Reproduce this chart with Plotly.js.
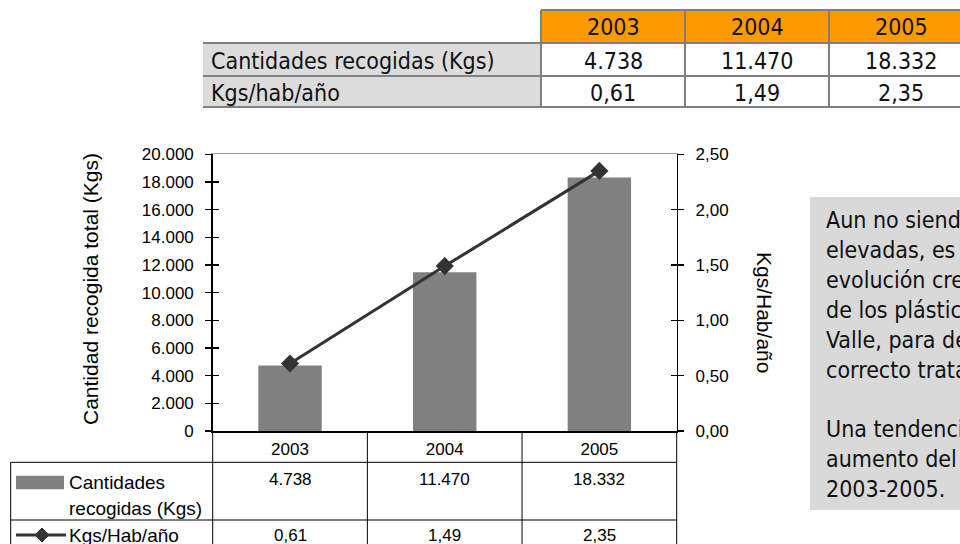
<!DOCTYPE html>
<html>
<head>
<meta charset="utf-8">
<script src="https://cdn.plot.ly/plotly-3.0.1.min.js"></script>
<style>
html,body{margin:0;padding:0;overflow:hidden;background:#fff;}
#chart{width:960px;height:544px;}
</style>
</head>
<body>
<div id="chart"></div>
<script>
// ---- data ----
const years = ['2003', '2004', '2005'];
const cantidades = [4738, 11470, 18332];
const kgsHab = [0.61, 1.49, 2.35];
const topRowLabels = ['Cantidades recogidas (Kgs)', 'Kgs/hab/año'];
const seriesNames = ['Cantidades recogidas (Kgs)', 'Kgs/Hab/año'];
const leftAxisTitle = 'Cantidad recogida total (Kgs)';
const rightAxisTitle = 'Kgs/Hab/año';
const noteLines = [
  'Aun no siendo cantidades muy',
  'elevadas, es significativa la',
  'evolución creciente en la recogida',
  'de los plásticos agrícolas del',
  'Valle, para destinarlos a su',
  'correcto tratamiento.',
  '',
  'Una tendencia que supone un',
  'aumento del 287% en el periodo',
  '2003-2005.'
];

// ---- helpers ----
const W = 960, H = 544;
const fx = p => p / W;
const fy = p => 1 - p / H;
const fmtThousands = n => String(n).replace(/\B(?=(\d{3})+(?!\d))/g, '.');
const fmtDec = v => v.toFixed(2).replace('.', ',');
const cantLabels = cantidades.map(fmtThousands);
const kgsLabels = kgsHab.map(fmtDec);

const ARIAL = 'Liberation Sans, Arial, sans-serif';
const TAHOMA = 'DejaVu Sans Condensed, DejaVu Sans, sans-serif';
const INK = '#000000';
const BAR = '#808080';
const LINE = '#333333';

// plot geometry (pixels)
const PL = 212.7, PR = 676.7, PT = 154.3, PB = 431;
const catW = (PR - PL) / years.length;

const shapes = [];
const annotations = [];

// ---- top table ----
const tT = 10, tR1 = 43, tR2 = 76, tB = 107;
const labL = 203, colL = 541, colW = 144;
shapes.push({type:'rect', xref:'paper', yref:'paper', x0:fx(labL), x1:fx(colL), y0:fy(tB), y1:fy(tR1), fillcolor:'#dcdcdc', line:{width:0}, layer:'below'});
shapes.push({type:'rect', xref:'paper', yref:'paper', x0:fx(colL), x1:fx(colL + colW*years.length), y0:fy(tR1), y1:fy(tT), fillcolor:'#ff9900', line:{width:0}, layer:'below'});
const tableGrid = {color:'#808080', width:2};
[tR1, tR2, tB].forEach(yy => shapes.push({type:'line', xref:'paper', yref:'paper', x0:fx(labL), x1:fx(colL + colW*years.length), y0:fy(yy), y1:fy(yy), line:tableGrid}));
shapes.push({type:'line', xref:'paper', yref:'paper', x0:fx(colL), x1:fx(colL + colW*years.length), y0:fy(tT), y1:fy(tT), line:tableGrid});
for (let i = 0; i <= years.length; i++) {
  shapes.push({type:'line', xref:'paper', yref:'paper', x0:fx(colL + colW*i), x1:fx(colL + colW*i), y0:fy(tT), y1:fy(tB), line:tableGrid});
}
const topFont = {family:TAHOMA, size:23, color:'#111'};
years.forEach((yr, i) => {
  const cx = fx(colL + colW*i + colW/2);
  annotations.push({xref:'paper', yref:'paper', x:cx, y:fy((tT+tR1)/2 + 1), text:yr, showarrow:false, font:topFont, xanchor:'center', yanchor:'middle'});
  annotations.push({xref:'paper', yref:'paper', x:cx, y:fy((tR1+tR2)/2 + 1), text:cantLabels[i], showarrow:false, font:topFont, xanchor:'center', yanchor:'middle'});
  annotations.push({xref:'paper', yref:'paper', x:cx, y:fy((tR2+tB)/2 + 1), text:kgsLabels[i], showarrow:false, font:topFont, xanchor:'center', yanchor:'middle'});
});
annotations.push({xref:'paper', yref:'paper', x:fx(209), y:fy((tR1+tR2)/2 + 1), text:topRowLabels[0], showarrow:false, font:topFont, xanchor:'left', yanchor:'middle'});
annotations.push({xref:'paper', yref:'paper', x:fx(209), y:fy((tR2+tB)/2 + 1), text:topRowLabels[1], showarrow:false, font:topFont, xanchor:'left', yanchor:'middle'});

// ---- text note box ----
shapes.push({type:'rect', xref:'paper', yref:'paper', x0:fx(810), x1:fx(1000), y0:fy(510), y1:fy(197), fillcolor:'#d9d9d9', line:{width:0}, layer:'below'});
annotations.push({xref:'paper', yref:'paper', x:fx(824), y:fy(205), text:noteLines.join('<br>'), showarrow:false, align:'left', xanchor:'left', yanchor:'top', font:{family:TAHOMA, size:23, color:'#111'}});

// ---- axis titles ----
annotations.push({xref:'paper', yref:'paper', x:fx(90), y:fy(289), text:leftAxisTitle, textangle:-90, showarrow:false, xanchor:'center', yanchor:'middle', font:{family:ARIAL, size:21, color:INK}});
annotations.push({xref:'paper', yref:'paper', x:fx(765), y:fy(312), text:rightAxisTitle, textangle:90, showarrow:false, xanchor:'center', yanchor:'middle', font:{family:ARIAL, size:21, color:INK}});

// ---- data table under the chart ----
const dR1 = 462.3, dR2 = 520, dL = 10.7;
const dGrid = {color:'#000', width:1};
[dR1, dR2].forEach(yy => shapes.push({type:'line', xref:'paper', yref:'paper', x0:fx(dL), x1:fx(PR), y0:fy(yy), y1:fy(yy), line:dGrid}));
shapes.push({type:'line', xref:'paper', yref:'paper', x0:fx(dL), x1:fx(dL), y0:fy(dR1), y1:0, line:dGrid});
for (let i = 0; i <= years.length; i++) {
  shapes.push({type:'line', xref:'paper', yref:'paper', x0:fx(PL + catW*i), x1:fx(PL + catW*i), y0:0, y1:fy(PB), line:dGrid});
}
const tabFont = {family:ARIAL, size:17, color:INK};
years.forEach((yr, i) => {
  const cx = fx(PL + catW*(i + 0.5));
  annotations.push({xref:'paper', yref:'paper', x:cx, y:fy(479), text:cantLabels[i], showarrow:false, font:tabFont, xanchor:'center', yanchor:'middle'});
  annotations.push({xref:'paper', yref:'paper', x:cx, y:fy(535), text:kgsLabels[i], showarrow:false, font:tabFont, xanchor:'center', yanchor:'middle'});
});
// legend keys
shapes.push({type:'rect', xref:'paper', yref:'paper', x0:fx(16), x1:fx(64), y0:fy(489.3), y1:fy(475.7), fillcolor:BAR, line:{width:0}});
shapes.push({type:'line', xref:'paper', yref:'paper', x0:fx(16), x1:fx(66), y0:fy(535), y1:fy(535), line:{color:LINE, width:3}});
const dk = 7, dcx = 42, dcy = 535;
shapes.push({type:'path', xref:'paper', yref:'paper',
  path:`M ${fx(dcx)} ${fy(dcy-dk)} L ${fx(dcx+dk)} ${fy(dcy)} L ${fx(dcx)} ${fy(dcy+dk)} L ${fx(dcx-dk)} ${fy(dcy)} Z`,
  fillcolor:LINE, line:{color:LINE, width:1}});
const firstSpace = seriesNames[0].indexOf(' ');
const legFont = {family:ARIAL, size:19, color:INK};
annotations.push({xref:'paper', yref:'paper', x:fx(67), y:fy(482), text:seriesNames[0].slice(0, firstSpace), showarrow:false, font:legFont, xanchor:'left', yanchor:'middle'});
annotations.push({xref:'paper', yref:'paper', x:fx(67), y:fy(508), text:seriesNames[0].slice(firstSpace + 1), showarrow:false, font:legFont, xanchor:'left', yanchor:'middle'});
annotations.push({xref:'paper', yref:'paper', x:fx(67), y:fy(535), text:seriesNames[1], showarrow:false, font:legFont, xanchor:'left', yanchor:'middle'});

// ---- traces ----
const traces = [
  {type:'bar', name:seriesNames[0], x:years, y:cantidades, xaxis:'x', yaxis:'y', width:0.41,
   marker:{color:BAR, line:{width:0}}, hoverinfo:'x+y'},
  {type:'scatter', name:seriesNames[1], x:years, y:kgsHab, xaxis:'x', yaxis:'y2', mode:'lines+markers',
   line:{color:LINE, width:3}, marker:{symbol:'diamond', size:14, color:LINE}, cliponaxis:false},
  {type:'scatter', x:years, y:cantidades, xaxis:'x', yaxis:'y3', mode:'none', hoverinfo:'skip', showlegend:false},
  {type:'scatter', x:years, y:kgsHab, xaxis:'x', yaxis:'y4', mode:'none', hoverinfo:'skip', showlegend:false},
  {type:'scatter', x:years, y:cantidades, xaxis:'x2', yaxis:'y', mode:'none', hoverinfo:'skip', showlegend:false}
];

const xDom = [fx(PL), fx(PR)];
const yDom = [fy(PB), fy(PT)];
const tickFont = {family:ARIAL, size:17, color:INK};

const layout = {
  width:W, height:H,
  margin:{l:0, r:0, t:0, b:0, pad:0},
  paper_bgcolor:'#fff', plot_bgcolor:'#fff',
  showlegend:false,
  separators:',.',
  xaxis:{domain:xDom, type:'category', categoryorder:'array', categoryarray:years, range:[-0.5, 2.5],
    showline:true, linecolor:'#000', linewidth:1.5, ticks:'', showgrid:false, zeroline:false,
    tickfont:tickFont, ticklabelstandoff:2, fixedrange:true},
  xaxis2:{domain:xDom, overlaying:'x', side:'top', anchor:'y', type:'category', categoryarray:years, range:[-0.5, 2.5],
    showline:true, linecolor:'#9a9a9a', linewidth:1.5, ticks:'', showticklabels:false, showgrid:false, zeroline:false},
  yaxis:{domain:yDom, range:[0, 20000], dtick:2000, tickformat:',d', ticks:'outside', ticklen:6, tickwidth:1.2, tickcolor:'#000',
    showline:true, linecolor:'#000', linewidth:1.5, showgrid:false, zeroline:false, tickfont:tickFont, ticklabelstandoff:8, fixedrange:true},
  yaxis2:{domain:yDom, overlaying:'y', side:'right', anchor:'x', range:[0, 2.5], dtick:0.5, tickformat:'.2f', ticks:'outside', ticklen:6, tickwidth:1.2, tickcolor:'#000',
    showline:true, linecolor:'#000', linewidth:1.5, showgrid:false, zeroline:false, tickfont:tickFont, ticklabelstandoff:8, fixedrange:true},
  yaxis3:{domain:yDom, overlaying:'y', side:'left', anchor:'x', range:[0, 20000], dtick:2000, ticks:'inside', ticklen:6, tickwidth:1.2, tickcolor:'#000',
    showticklabels:false, showline:false, showgrid:false, zeroline:false},
  yaxis4:{domain:yDom, overlaying:'y', side:'right', anchor:'x', range:[0, 2.5], dtick:0.5, ticks:'inside', ticklen:6, tickwidth:1.2, tickcolor:'#000',
    showticklabels:false, showline:false, showgrid:false, zeroline:false},
  shapes:shapes,
  annotations:annotations
};

Plotly.newPlot('chart', traces, layout, {displayModeBar:false, staticPlot:true});
</script>
</body>
</html>
